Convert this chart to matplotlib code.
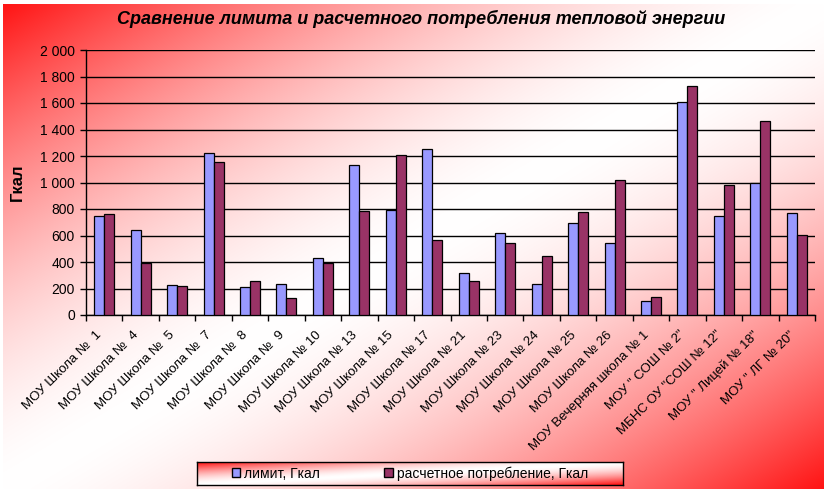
import numpy as np
import matplotlib
matplotlib.use("Agg")
import matplotlib.pyplot as plt
import matplotlib.transforms as mtransforms
from matplotlib.patches import Patch
from matplotlib.ticker import FuncFormatter

plt.rcParams['font.family'] = ['Liberation Sans', 'DejaVu Sans']

schools = [
    "МОУ Школа №  1", "МОУ Школа №  4", "МОУ Школа №  5", "МОУ Школа №  7",
    "МОУ Школа №  8", "МОУ Школа №  9", "МОУ Школа № 10", "МОУ Школа № 13",
    "МОУ Школа № 15", "МОУ Школа № 17", "МОУ Школа № 21", "МОУ Школа № 23",
    "МОУ Школа № 24", "МОУ Школа № 25", "МОУ Школа № 26",
    "МОУ Вечерняя школа № 1", "МОУ \" СОШ № 2\"", "МБНС ОУ \"СОШ № 12\"",
    "МОУ \" Лицей № 18\"", "МОУ \" ЛГ № 20\"",
]
limit = [747, 641, 225, 1225, 210, 232, 429, 1134, 793, 1250,
         316, 619, 232, 694, 543, 104, 1604, 747, 997, 770]
consumption = [763, 389, 217, 1157, 258, 129, 389, 788, 1210, 566,
               255, 543, 444, 778, 1020, 134, 1732, 982, 1467, 604]

W, H = 830, 497


def gradient(nx, ny, gamma=1.6):
    u = np.linspace(0, 1, nx)[None, :]
    v = np.linspace(0, 1, ny)[:, None]
    f = np.abs((u + v) - 1.0) ** gamma
    red = np.array([1.0, 0.08, 0.08])
    white = np.array([1.0, 1.0, 1.0])
    return white * (1 - f[..., None]) + red * f[..., None]


fig = plt.figure(figsize=(W / 100, H / 100), dpi=100)

# chart area background
bg = fig.add_axes([3 / W, (H - 489) / H, 820 / W, 485 / H], zorder=0)
bg.imshow(gradient(400, 240), aspect='auto', interpolation='bilinear')
bg.set_axis_off()

ax = fig.add_axes([86 / W, (H - 315) / H, 729 / W, 265 / H], zorder=1)
ax.patch.set_alpha(0)

x = np.arange(len(schools))
bw = 0.275
ax.bar(x - bw / 2, limit, bw, color='#9999FF', edgecolor='black', linewidth=0.9, zorder=3)
ax.bar(x + bw / 2, consumption, bw, color='#993366', edgecolor='black', linewidth=0.9, zorder=3)

ax.set_xlim(-0.5, len(schools) - 0.5)
ax.set_ylim(0, 2000)
ax.set_yticks(range(0, 2001, 200))
ax.yaxis.set_major_formatter(FuncFormatter(lambda v, p: f"{int(v):,}".replace(",", " ")))
ax.yaxis.grid(True, color='black', linewidth=1.0, zorder=0)
ax.set_axisbelow(True)

ax.set_xticks(np.arange(len(schools) + 1) - 0.5)
ax.set_xticklabels([])
ax.set_xticks(x, minor=True)
ax.set_xticklabels(schools, minor=True, rotation=45, ha='right', va='center',
                   rotation_mode='anchor', fontsize=9.5)
ax.tick_params(axis='x', which='minor', length=0, pad=13)
ax.tick_params(axis='x', which='major', length=4, width=1, direction='out')
ax.tick_params(axis='y', length=4, width=1, labelsize=10, pad=4)
shift = mtransforms.ScaledTranslation(-4 / 100, 0, fig.dpi_scale_trans)
for lbl in ax.get_xticklabels(minor=True):
    lbl.set_transform(lbl.get_transform() + shift)

for s in ['top', 'right']:
    ax.spines[s].set_visible(False)
for s in ['left', 'bottom']:
    ax.spines[s].set_linewidth(1.0)

fig.text(17 / W, 1 - 182 / H, "Гкал", rotation=90, ha='center', va='center',
         fontsize=12, fontweight='bold')

fig.text(421 / W, 1 - 19 / H, "Сравнение лимита и расчетного потребления тепловой энергии",
         ha='center', va='center', fontsize=13, fontweight='bold', fontstyle='italic')

# legend box
lg = fig.add_axes([197 / W, (H - 485) / H, 426 / W, 23 / H], zorder=2)
lg.imshow(gradient(200, 20), aspect='auto', interpolation='bilinear')
lg.set_xticks([])
lg.set_yticks([])
for s in lg.spines.values():
    s.set_linewidth(1.0)
handles = [Patch(facecolor='#9999FF', edgecolor='black', label="лимит, Гкал"),
           Patch(facecolor='#993366', edgecolor='black', label="расчетное потребление, Гкал")]
lg.legend(handles=handles, loc='center', ncol=2, frameon=False, fontsize=10,
          handlelength=0.6, handleheight=0.6, handletextpad=0.3, columnspacing=4.6)

fig.savefig("out.png", dpi=100)
